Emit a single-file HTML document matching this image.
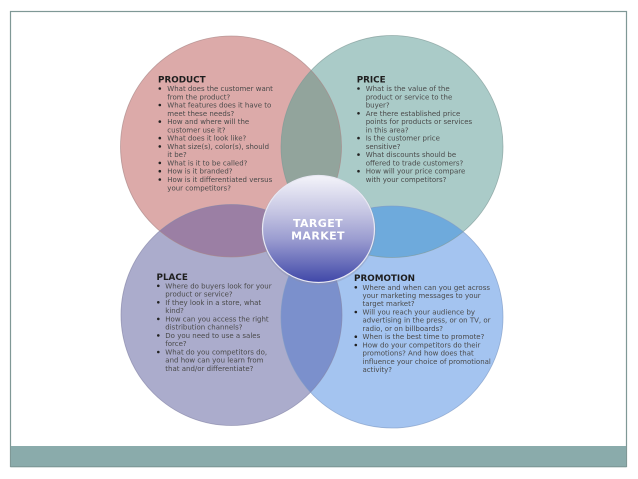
<!DOCTYPE html>
<html><head><meta charset="utf-8"><style>
html,body{margin:0;padding:0;background:#fff;width:638px;height:479px;overflow:hidden}
svg{display:block}
.h{font-family:"DejaVu Sans","Liberation Sans",sans-serif;font-weight:bold;font-size:8.8px;fill:#1e1e1e}
.t{font-family:"DejaVu Sans","Liberation Sans",sans-serif;font-size:7px;fill:#4a4a4a}
.tm{font-family:"DejaVu Sans","Liberation Sans",sans-serif;font-weight:bold;font-size:11px;fill:#fff;letter-spacing:0.4px}
</style></head><body>
<svg width="638" height="479" viewBox="0 0 638 479" xmlns="http://www.w3.org/2000/svg">
<defs>
<clipPath id="cProd"><circle cx="231" cy="146.5" r="110.5"/></clipPath>
<clipPath id="cPrice"><circle cx="392" cy="146.5" r="111"/></clipPath>
<clipPath id="cPlace"><circle cx="231.5" cy="315" r="110.5"/></clipPath>
<clipPath id="cPromo"><circle cx="392" cy="317" r="111"/></clipPath>
<linearGradient id="gTM" x1="0" y1="0" x2="0" y2="1">
<stop offset="0" stop-color="#f4f4fa"/>
<stop offset="0.35" stop-color="#c4c4e2"/>
<stop offset="0.6" stop-color="#9a9cd0"/>
<stop offset="1" stop-color="#3f47a8"/>
</linearGradient>
</defs>
<rect x="0" y="0" width="638" height="479" fill="#fff"/>
<!-- frame -->
<rect x="10.5" y="11.5" width="616" height="455" fill="#fff" stroke="#7f9896" stroke-width="1.2"/>
<rect x="11" y="446" width="615" height="20.5" fill="#8aabab"/>
<line x1="10.5" y1="466.8" x2="626.5" y2="466.8" stroke="#7b9593" stroke-width="1"/>

<!-- circles -->
<circle cx="231" cy="146.5" r="110.5" fill="#dcaaa9"/>
<circle cx="392" cy="146.5" r="111" fill="#aacbc8"/>
<circle cx="231.5" cy="315" r="110.5" fill="#abaccc"/>
<circle cx="392" cy="317" r="111" fill="#a4c4f0"/>
<!-- overlaps -->
<circle cx="392" cy="146.5" r="111" fill="#92a49c" clip-path="url(#cProd)"/>
<circle cx="231.5" cy="315" r="110.5" fill="#9b7fa4" clip-path="url(#cProd)"/>
<circle cx="392" cy="317" r="111" fill="#6eaadc" clip-path="url(#cPrice)"/>
<circle cx="392" cy="317" r="111" fill="#7b90cc" clip-path="url(#cPlace)"/>
<!-- outlines -->
<circle cx="231" cy="146.5" r="110.5" fill="none" stroke="#a88584" stroke-width="0.8" opacity="0.7"/>
<circle cx="392" cy="146.5" r="111" fill="none" stroke="#7e9996" stroke-width="0.8" opacity="0.7"/>
<circle cx="231.5" cy="315" r="110.5" fill="none" stroke="#8485a6" stroke-width="0.8" opacity="0.7"/>
<circle cx="392" cy="317" r="111" fill="none" stroke="#7c99c4" stroke-width="0.8" opacity="0.7"/>

<!-- target market -->
<ellipse cx="318.5" cy="230" rx="57.5" ry="55" fill="#8c8fa8" opacity="0.35"/>
<ellipse cx="318.5" cy="229" rx="56" ry="53.5" fill="url(#gTM)" stroke="#e8e8f2" stroke-width="1.2"/>
<text class="tm" x="318" y="227" text-anchor="middle">TARGET</text>
<text class="tm" x="318" y="239.5" text-anchor="middle">MARKET</text>

<!-- PRODUCT -->
<text class="h" x="158" y="82.5">PRODUCT</text>
<g fill="#222">
<circle cx="159.8" cy="88.5" r="1.3"/><circle cx="159.8" cy="105" r="1.3"/><circle cx="159.8" cy="121.6" r="1.3"/><circle cx="159.8" cy="138.1" r="1.3"/><circle cx="159.8" cy="146.4" r="1.3"/><circle cx="159.8" cy="162.9" r="1.3"/><circle cx="159.8" cy="171.2" r="1.3"/><circle cx="159.8" cy="179.5" r="1.3"/>
</g>
<text class="t" x="167.3" y="91">What does the customer want</text>
<text class="t" x="167.3" y="99.3">from the product?</text>
<text class="t" x="167.3" y="107.5">What features does it have to</text>
<text class="t" x="167.3" y="115.8">meet these needs?</text>
<text class="t" x="167.3" y="124.1">How and where will the</text>
<text class="t" x="167.3" y="132.4">customer use it?</text>
<text class="t" x="167.3" y="140.6">What does it look like?</text>
<text class="t" x="167.3" y="148.9">What size(s), color(s), should</text>
<text class="t" x="167.3" y="157.2">it be?</text>
<text class="t" x="167.3" y="165.4">What is it to be called?</text>
<text class="t" x="167.3" y="173.7">How is it branded?</text>
<text class="t" x="167.3" y="182">How is it differentiated versus</text>
<text class="t" x="167.3" y="190.3">your competitors?</text>

<!-- PRICE -->
<text class="h" x="356.7" y="82.5">PRICE</text>
<g fill="#222">
<circle cx="358.5" cy="88.5" r="1.3"/><circle cx="358.5" cy="113.3" r="1.3"/><circle cx="358.5" cy="138.1" r="1.3"/><circle cx="358.5" cy="154.6" r="1.3"/><circle cx="358.5" cy="171.2" r="1.3"/>
</g>
<text class="t" x="365.7" y="91">What is the value of the</text>
<text class="t" x="365.7" y="99.3">product or service to the</text>
<text class="t" x="365.7" y="107.5">buyer?</text>
<text class="t" x="365.7" y="115.8">Are there established price</text>
<text class="t" x="365.7" y="124.1">points for products or services</text>
<text class="t" x="365.7" y="132.4">in this area?</text>
<text class="t" x="365.7" y="140.6">Is the customer price</text>
<text class="t" x="365.7" y="148.9">sensitive?</text>
<text class="t" x="365.7" y="157.2">What discounts should be</text>
<text class="t" x="365.7" y="165.4">offered to trade customers?</text>
<text class="t" x="365.7" y="173.7">How will your price compare</text>
<text class="t" x="365.7" y="182">with your competitors?</text>

<!-- PLACE -->
<text class="h" x="156.5" y="279.8">PLACE</text>
<g fill="#222">
<circle cx="158.3" cy="285.8" r="1.3"/><circle cx="158.3" cy="302.3" r="1.3"/><circle cx="158.3" cy="318.9" r="1.3"/><circle cx="158.3" cy="335.4" r="1.3"/><circle cx="158.3" cy="352" r="1.3"/>
</g>
<text class="t" x="165.3" y="288.3">Where do buyers look for your</text>
<text class="t" x="165.3" y="296.6">product or service?</text>
<text class="t" x="165.3" y="304.8">If they look in a store, what</text>
<text class="t" x="165.3" y="313.1">kind?</text>
<text class="t" x="165.3" y="321.4">How can you access the right</text>
<text class="t" x="165.3" y="329.7">distribution channels?</text>
<text class="t" x="165.3" y="337.9">Do you need to use a sales</text>
<text class="t" x="165.3" y="346.2">force?</text>
<text class="t" x="165.3" y="354.5">What do you competitors do,</text>
<text class="t" x="165.3" y="362.7">and how can you learn from</text>
<text class="t" x="165.3" y="371">that and/or differentiate?</text>

<!-- PROMOTION -->
<text class="h" x="354" y="281">PROMOTION</text>
<g fill="#222">
<circle cx="355.8" cy="287.3" r="1.3"/><circle cx="355.8" cy="312" r="1.3"/><circle cx="355.8" cy="336.7" r="1.3"/><circle cx="355.8" cy="345" r="1.3"/>
</g>
<text class="t" x="362.5" y="289.8">Where and when can you get across</text>
<text class="t" x="362.5" y="298">your marketing messages to your</text>
<text class="t" x="362.5" y="306.2">target market?</text>
<text class="t" x="362.5" y="314.5">Will you reach your audience by</text>
<text class="t" x="362.5" y="322.7">advertising in the press, or on TV, or</text>
<text class="t" x="362.5" y="330.9">radio, or on billboards?</text>
<text class="t" x="362.5" y="339.2">When is the best time to promote?</text>
<text class="t" x="362.5" y="347.4">How do your competitors do their</text>
<text class="t" x="362.5" y="355.6">promotions? And how does that</text>
<text class="t" x="362.5" y="363.9">influence your choice of promotional</text>
<text class="t" x="362.5" y="372.1">activity?</text>
</svg>
</body></html>
